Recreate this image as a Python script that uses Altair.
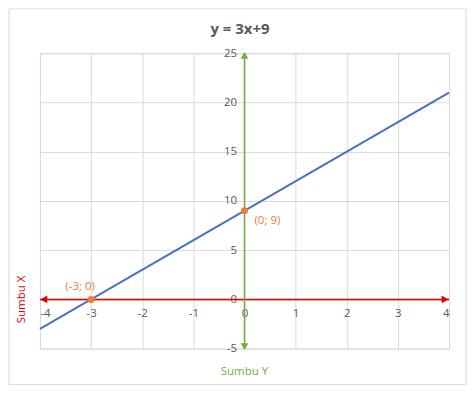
import altair as alt
import pandas as pd

# data
line_x = [-4, 4]
line_y = [-3, 21]
pt_x = [-3, 0]
pt_y = [0, 9]
pt_labels = ["(-3; 0)", "(0; 9)"]
x_ticks = [-4, -3, -2, -1, 0, 1, 2, 3, 4]
y_ticks = [-5, 0, 5, 10, 15, 20, 25]
xaxis_x = [-4, 4]
yaxis_y = [-5, 25]
title_text = "y = 3x+9"

W, H = 410, 296
FONT = "Open Sans"
GRID = "#D9D9D9"
LBL = "#595959"
RED = "#E00000"
GREEN = "#70AD47"
BLUE = "#4472C4"
ORANGE = "#ED7D31"

xs = alt.Scale(domain=[-4, 4], nice=False, zero=False)
ys = alt.Scale(domain=[-5, 25], nice=False, zero=False)

line_df = pd.DataFrame({"x": line_x, "y": line_y})
pt_df = pd.DataFrame({"x": pt_x, "y": pt_y, "label": pt_labels})
xa_df = pd.DataFrame({"x": xaxis_x, "y": [0, 0]})
ya_df = pd.DataFrame({"x": [0, 0], "y": yaxis_y})

x_enc = alt.X("x:Q", scale=xs, axis=alt.Axis(values=x_ticks, offset=-49.33, title=None,
    domain=False, ticks=False, labelPadding=8, grid=True, gridColor=GRID,
    labelExpr="'' + datum.value",
    labelColor=LBL, labelFont=FONT, labelFontSize=11.5))
y_enc = alt.Y("y:Q", scale=ys, axis=alt.Axis(values=y_ticks, offset=-205, title=None,
    domain=False, ticks=False, labelPadding=8, grid=True, gridColor=GRID,
    labelExpr="'' + datum.value",
    labelColor=LBL, labelFont=FONT, labelFontSize=11.5))

border = alt.Chart(pd.DataFrame({"a": [0]})).mark_rect(
    fill=None, stroke=GRID, strokeWidth=1).encode(
    x=alt.value(-31), x2=alt.value(427), y=alt.value(-44.5), y2=alt.value(332))

title = alt.Chart(pd.DataFrame({"t": [title_text]})).mark_text(
    font=FONT, fontSize=15, fontWeight="bold", color=LBL).encode(
    x=alt.value(200.5), y=alt.value(-24), text="t:N")

blue = alt.Chart(line_df).mark_line(color=BLUE, strokeWidth=2).encode(x=x_enc, y=y_enc)

red_line = alt.Chart(xa_df).mark_line(color=RED, strokeWidth=1.5).encode(
    x=alt.X("x:Q", scale=xs), y=alt.Y("y:Q", scale=ys))
green_line = alt.Chart(ya_df).mark_line(color=GREEN, strokeWidth=1.5).encode(
    x=alt.X("x:Q", scale=xs), y=alt.Y("y:Q", scale=ys))

arrow_l = alt.Chart(xa_df.iloc[[0]]).mark_point(shape="triangle-left", filled=True,
    color=RED, size=60, opacity=1).encode(x=alt.X("x:Q", scale=xs), y=alt.Y("y:Q", scale=ys),
    xOffset=alt.value(4))
arrow_r = alt.Chart(xa_df.iloc[[1]]).mark_point(shape="triangle-right", filled=True,
    color=RED, size=60, opacity=1).encode(x=alt.X("x:Q", scale=xs), y=alt.Y("y:Q", scale=ys),
    xOffset=alt.value(-4))
arrow_u = alt.Chart(ya_df.iloc[[1]]).mark_point(shape="triangle-up", filled=True,
    color=GREEN, size=60, opacity=1).encode(x=alt.X("x:Q", scale=xs), y=alt.Y("y:Q", scale=ys),
    yOffset=alt.value(2))
arrow_d = alt.Chart(ya_df.iloc[[0]]).mark_point(shape="triangle-down", filled=True,
    color=GREEN, size=60, opacity=1).encode(x=alt.X("x:Q", scale=xs), y=alt.Y("y:Q", scale=ys),
    yOffset=alt.value(-2))

pts = alt.Chart(pt_df).mark_circle(color=ORANGE, size=50, opacity=1).encode(
    x=alt.X("x:Q", scale=xs), y=alt.Y("y:Q", scale=ys))
lbl1 = alt.Chart(pt_df.iloc[[0]]).mark_text(color=ORANGE, font=FONT, fontSize=11.5,
    dx=-11, dy=-12).encode(x=alt.X("x:Q", scale=xs), y=alt.Y("y:Q", scale=ys), text="label:N")
lbl2 = alt.Chart(pt_df.iloc[[1]]).mark_text(color=ORANGE, font=FONT, fontSize=11.5,
    align="left", dx=10, dy=10).encode(x=alt.X("x:Q", scale=xs), y=alt.Y("y:Q", scale=ys), text="label:N")

sumbu_x = alt.Chart(pd.DataFrame({"y": [0], "t": ["Sumbu X"]})).mark_text(
    color=RED, font=FONT, fontSize=11.5, angle=270).encode(
    x=alt.value(-18), y=alt.Y("y:Q", scale=ys), text="t:N")
sumbu_y = alt.Chart(pd.DataFrame({"x": [0], "t": ["Sumbu Y"]})).mark_text(
    color=GREEN, font=FONT, fontSize=11.5).encode(
    x=alt.X("x:Q", scale=xs), y=alt.value(319), text="t:N")

chart = alt.layer(border, title, blue, red_line, green_line, arrow_l, arrow_r, arrow_u, arrow_d,
                  pts, lbl1, lbl2, sumbu_x, sumbu_y).properties(
    width=W, height=H,
    autosize=alt.AutoSizeParams(type="none"),
    padding={"left": 32, "top": 45, "right": 18, "bottom": 40},
).configure_view(stroke=GRID).configure(background="white")

chart.save("out.html", embed_options={"renderer": "svg", "actions": False})
